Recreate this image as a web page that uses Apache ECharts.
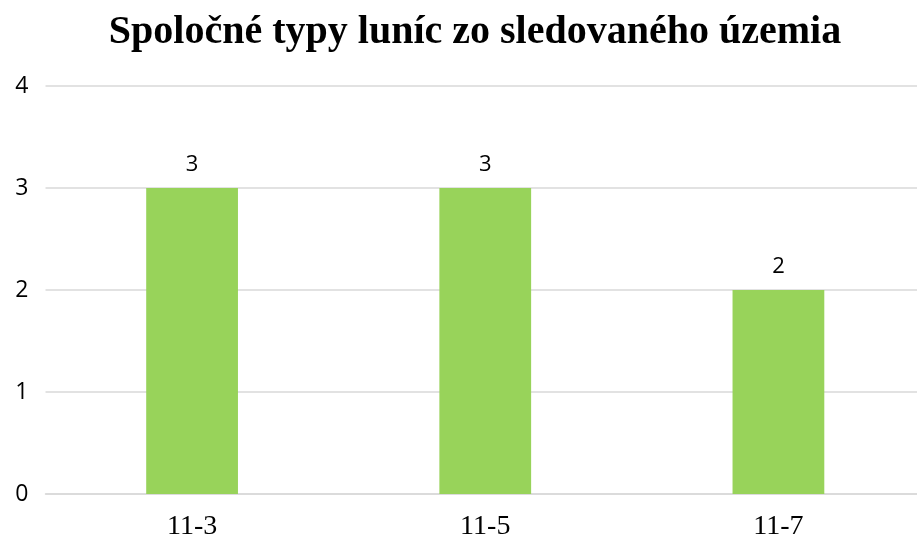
<!DOCTYPE html>
<html>
<head>
<meta charset="utf-8">
<script src="https://cdn.jsdelivr.net/npm/echarts@6/dist/echarts.min.js"></script>
<style>
  html, body { margin: 0; padding: 0; background: #fff; overflow: hidden; }
  #chart { width: 925px; height: 541px; }
</style>
</head>
<body>
<div id="chart"></div>
<script>
// Category names and counts of shared types
const categories = ['11-3', '11-5', '11-7'];
const counts = [3, 3, 2];
const yTicks = [0, 1, 2, 3, 4];

const chart = echarts.init(document.getElementById('chart'));
chart.setOption({
  animation: false,
  title: {
    text: 'Spoločné typy luníc zo sledovaného územia',
    left: 470,
    top: 8,
    textAlign: 'center',
    textStyle: {
      fontFamily: 'Liberation Serif',
      fontWeight: 'bold',
      fontSize: 40,
      color: '#000'
    }
  },
  grid: { left: 45.5, top: 86, right: 0, height: 408, containLabel: false },
  xAxis: {
    type: 'category',
    data: categories,
    axisLine: { show: true, lineStyle: { color: '#d9d9d9', width: 1.5 } },
    axisTick: { show: false },
    axisLabel: {
      fontFamily: 'Liberation Serif',
      fontSize: 28,
      color: '#000',
      margin: 19
    }
  },
  yAxis: {
    type: 'value',
    min: yTicks[0],
    max: yTicks[yTicks.length - 1],
    interval: 1,
    axisLine: { show: false },
    axisTick: { show: false },
    splitLine: { lineStyle: { color: '#d9d9d9', width: 1.5 } },
    axisLabel: {
      fontFamily: 'Open Sans',
      fontSize: 23,
      color: '#000',
      margin: 17
    }
  },
  series: [{
    type: 'bar',
    data: counts,
    barWidth: '31.3%',
    itemStyle: { color: '#98d35a' },
    label: {
      show: true,
      position: 'top',
      distance: 12,
      fontFamily: 'Open Sans',
      fontSize: 22,
      color: '#000'
    }
  }]
});
</script>
</body>
</html>
